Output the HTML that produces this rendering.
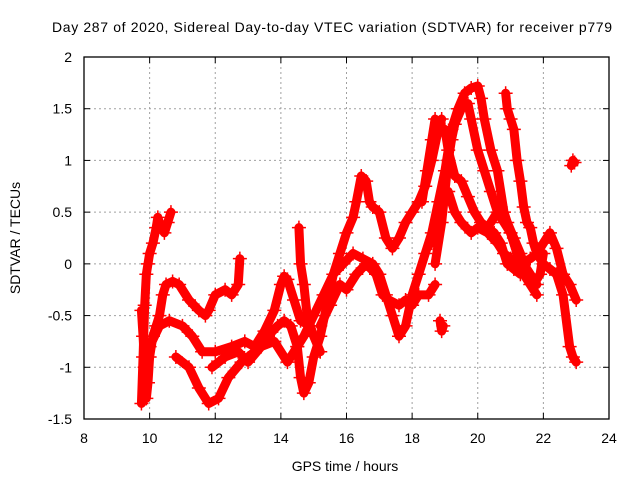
<!DOCTYPE html>
<html><head><meta charset="utf-8"><style>
body{margin:0;background:#fff}
svg{display:block;font-family:"Liberation Sans",sans-serif}
</style></head><body>
<svg id="chart" width="640" height="480" viewBox="0 0 640 480" xmlns="http://www.w3.org/2000/svg">
<rect width="640" height="480" fill="#fff"/>
<text x="52" y="32" font-size="14" textLength="560" lengthAdjust="spacing" fill="#000">Day 287 of 2020, Sidereal Day-to-day VTEC variation (SDTVAR) for receiver p779</text>
<text x="345" y="471" font-size="14" text-anchor="middle" fill="#000">GPS time / hours</text>
<text transform="translate(20,238) rotate(-90)" font-size="14" text-anchor="middle" fill="#000">SDTVAR / TECUs</text>
<g id="grid"></g><g id="marks"></g><g id="axes"></g>
</svg>
<script>
const xTicks=[8,10,12,14,16,18,20,22,24];
const yTicks=[-1.5,-1,-0.5,0,0.5,1,1.5,2];
const trackA=[[9.75,-1.35],[9.8,-0.9],[9.85,-0.4],[9.9,-0.1],[9.95,0.0],[10.0,0.1],[10.1,0.2],[10.2,0.35],[10.25,0.45],[10.35,0.35],[10.45,0.3],[10.55,0.4],[10.65,0.5]];
const trackB=[[9.75,-0.45],[9.8,-0.7],[9.85,-1.0],[9.9,-1.3],[9.95,-1.15],[10.0,-0.9],[10.1,-0.7],[10.2,-0.6],[10.3,-0.5],[10.4,-0.3],[10.5,-0.2],[10.7,-0.17],[10.9,-0.2],[11.2,-0.35],[11.5,-0.45],[11.7,-0.5],[11.8,-0.45],[12.0,-0.3],[12.3,-0.25],[12.5,-0.3],[12.7,-0.2],[12.75,0.05]];
const trackC=[[10.0,-0.8],[10.3,-0.6],[10.6,-0.55],[11.0,-0.6],[11.3,-0.7],[11.6,-0.85],[12.0,-0.85],[12.5,-0.8],[12.9,-0.75],[13.2,-0.8],[13.5,-0.65],[13.8,-0.45],[14.0,-0.2],[14.1,-0.12],[14.2,-0.15],[14.4,-0.35],[14.6,-0.55],[14.9,-0.6]];
const trackD=[[10.8,-0.9],[11.2,-1.0],[11.5,-1.2],[11.8,-1.35],[12.1,-1.3],[12.4,-1.1],[12.8,-0.95],[13.2,-0.85],[13.6,-0.7],[13.9,-0.6],[14.1,-0.55],[14.3,-0.6],[14.5,-0.8],[14.6,-1.1],[14.7,-1.25],[14.85,-1.15],[15.0,-0.9],[15.2,-0.7],[15.4,-0.4],[15.6,-0.1],[15.8,0.1],[16.0,0.3],[16.2,0.45],[16.3,0.6],[16.45,0.85],[16.6,0.8],[16.7,0.6],[16.8,0.55],[17.0,0.5],[17.2,0.25],[17.4,0.15],[17.6,0.25],[17.8,0.4],[18.0,0.5],[18.2,0.6],[18.4,0.75],[18.6,1.0],[18.8,1.3],[18.9,1.4]];
const trackE=[[11.9,-1.0],[12.3,-0.9],[12.7,-0.85],[13.0,-0.95],[13.4,-0.8],[13.8,-0.75],[14.2,-0.95],[14.5,-0.8],[14.7,-0.7],[15.0,-0.5],[15.3,-0.3],[15.6,-0.1],[15.9,0.0],[16.2,0.1],[16.5,0.05],[16.8,0.0],[17.0,-0.1],[17.2,-0.3],[17.4,-0.5],[17.6,-0.7],[17.8,-0.6],[18.0,-0.3],[18.2,-0.1],[18.4,0.1],[18.6,0.3],[18.8,0.6],[19.0,0.9],[19.2,1.3],[19.4,1.5],[19.6,1.65],[19.8,1.7],[20.0,1.72],[20.1,1.6],[20.2,1.4],[20.4,1.1],[20.6,0.9],[20.8,0.5],[21.0,0.3],[21.2,0.1],[21.4,-0.1],[21.6,-0.2],[21.8,-0.3]];
const trackF=[[15.2,-0.6],[15.5,-0.4],[15.8,-0.2],[16.0,-0.25],[16.3,-0.1],[16.6,0.0],[16.9,-0.1],[17.1,-0.3],[17.3,-0.35],[17.6,-0.4],[17.8,-0.35],[18.0,-0.4],[18.2,-0.3],[18.5,-0.3],[18.7,-0.2]];
const trackG=[[14.55,0.35],[14.6,0.0],[14.7,-0.2],[14.8,-0.5],[15.0,-0.7],[15.2,-0.85]];
const trackH=[[18.7,0.0],[18.9,0.4],[19.0,0.7],[19.1,1.0],[19.2,1.2],[19.3,1.35],[19.5,1.5],[19.7,1.55],[19.8,1.4],[20.0,1.1],[20.2,0.9],[20.4,0.7],[20.6,0.5],[20.8,0.4],[21.0,0.3],[21.2,0.1],[21.4,0.0],[21.6,-0.1],[21.8,-0.2]];
const trackI=[[19.0,1.3],[19.1,1.1],[19.3,0.85],[19.5,0.8],[19.7,0.65],[19.9,0.5],[20.1,0.4],[20.3,0.35],[20.5,0.3],[20.7,0.2],[20.9,0.0],[21.1,-0.05],[21.3,-0.1]];
const trackJ=[[18.6,0.2],[18.9,0.6],[19.1,0.7],[19.3,0.5],[19.5,0.4],[19.8,0.3],[20.0,0.35],[20.3,0.3],[20.6,0.2],[20.8,0.1],[21.0,0.05],[21.3,0.0],[21.6,0.05],[21.8,0.1],[22.0,0.2],[22.2,0.3],[22.4,0.15],[22.6,-0.1],[22.8,-0.2],[23.0,-0.35]];
const trackK=[[20.85,1.65],[20.9,1.5],[21.0,1.4],[21.1,1.3],[21.2,1.0],[21.3,0.8],[21.4,0.55],[21.5,0.4],[21.6,0.35],[21.7,0.2],[21.8,0.1],[22.0,0.0],[22.2,-0.05],[22.4,-0.1],[22.6,-0.3],[22.8,-0.8],[22.9,-0.9],[23.0,-0.95]];
const trackL=[[20.4,0.4],[20.7,0.55],[20.9,0.4],[21.1,0.25],[21.3,0.1],[21.5,-0.1],[21.7,-0.2],[21.9,-0.1],[22.0,0.1]];
const trackM=[[18.3,0.6],[18.45,0.9],[18.6,1.2],[18.7,1.4]];
const trackN=[[22.85,0.95],[22.9,1.0],[22.95,0.98]];
const trackO=[[18.85,-0.55],[18.9,-0.65],[18.95,-0.6]];
const tracks=[trackA,trackB,trackC,trackD,trackE,trackF,trackG,trackH,trackI,trackJ,trackK,trackL,trackM,trackN,trackO];
const NS="http://www.w3.org/2000/svg";
const L=84,R=609,T=57,B=419;
const xs=h=>L+(h-8)/(24-8)*(R-L);
const ys=v=>B-(v+1.5)/3.5*(B-T);
function mk(t,a,p){const e=document.createElementNS(NS,t);for(const k in a)e.setAttribute(k,a[k]);p.appendChild(e);return e;}
const grid=document.getElementById('grid'),axes=document.getElementById('axes'),marks=document.getElementById('marks');
xTicks.forEach(t=>{const x=xs(t);
 if(t>8&&t<24){const g=mk('line',{x1:x,x2:x,y1:T,y2:B,stroke:'#a0a0a0','stroke-dasharray':'2,3'},grid);
 
 }
 mk('line',{x1:x,x2:x,y1:B,y2:B-6,stroke:'#000'},axes);mk('line',{x1:x,x2:x,y1:T,y2:T+6,stroke:'#000'},axes);
 const tx=mk('text',{x:x,y:B+24,'font-size':14,'text-anchor':'middle'},axes);tx.textContent=t;
 
 });
yTicks.forEach(t=>{const y=ys(t);
 if(t>-1.5&&t<2){const g=mk('line',{x1:L,x2:R,y1:y,y2:y,stroke:'#a0a0a0','stroke-dasharray':'2,3'},grid);
 
 }
 mk('line',{x1:L,x2:L+6,y1:y,y2:y,stroke:'#000'},axes);mk('line',{x1:R,x2:R-6,y1:y,y2:y,stroke:'#000'},axes);
 const tx=mk('text',{x:L-12,y:y+5,'font-size':14,'text-anchor':'end'},axes);tx.textContent=t;
 
 });
const fr=mk('rect',{x:L,y:T,width:R-L,height:B-T,fill:'none',stroke:'#000','stroke-width':1.3},axes);


tracks.forEach((tr,i)=>{
 const g=mk('g',{},marks);
 
 
 mk('polyline',{points:tr.map(p=>xs(p[0])+','+ys(p[1])).join(' '),fill:'none',stroke:'#f00','stroke-width':9,'stroke-linejoin':'round','stroke-linecap':'round'},g);
 tr.forEach(p=>{const x=xs(p[0]),y=ys(p[1]);
  mk('path',{d:`M${x-7},${y}H${x+7}M${x},${y-7}V${y+7}`,stroke:'#f00','stroke-width':1.5},g);});
});
</script>
</body></html>
